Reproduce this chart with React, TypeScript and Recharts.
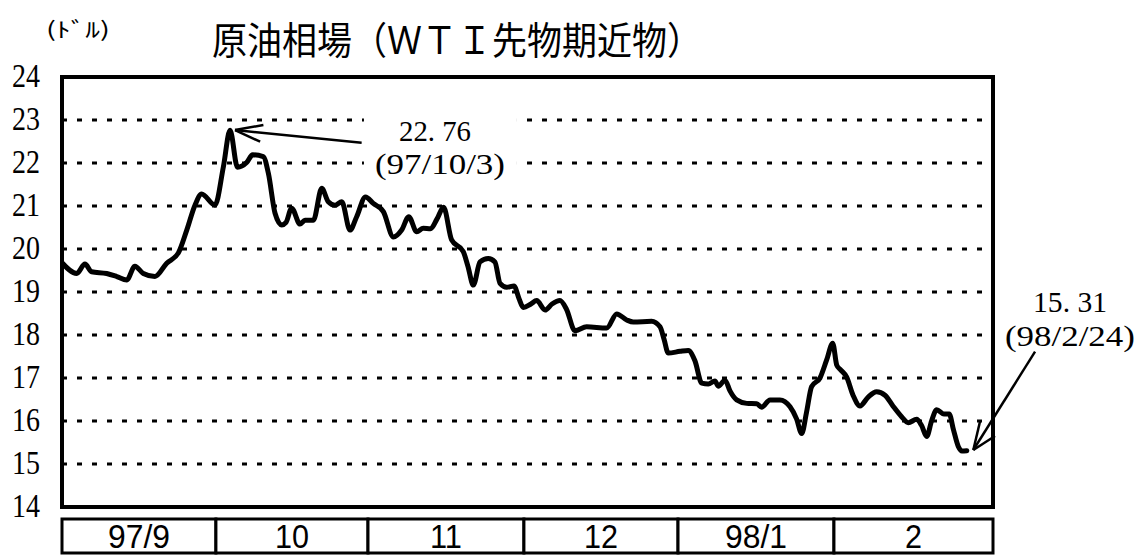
import React from 'react';
import {
  ComposedChart,
  Line,
  XAxis,
  YAxis,
  CartesianGrid,
  ReferenceArea,
  ReferenceLine,
  ReferenceDot,
} from 'recharts';

// x position in "month units" (0 = start of 97/9 box, 6 = end of 98/2 box)
const positions = [
  0, 0.095, 0.148, 0.191, 0.288, 0.353, 0.417, 0.47, 0.524, 0.599, 0.675, 0.75,
  0.804, 0.857, 0.9, 0.986, 1.04, 1.083, 1.131, 1.19, 1.229, 1.297, 1.33, 1.373,
  1.416, 1.444, 1.48, 1.534, 1.566, 1.62, 1.674, 1.716, 1.759, 1.803, 1.856, 1.899,
  1.956, 2.006, 2.071, 2.136, 2.189, 2.235, 2.286, 2.328, 2.375, 2.417, 2.459, 2.511,
  2.586, 2.616, 2.651, 2.694, 2.747, 2.79, 2.823, 2.866, 2.913, 2.945, 2.973, 3.022,
  3.059, 3.113, 3.158, 3.209, 3.251, 3.306, 3.381, 3.51, 3.575, 3.639, 3.682, 3.8,
  3.854, 3.88, 3.907, 3.983, 4.036, 4.079, 4.123, 4.165, 4.208, 4.229, 4.273, 4.305,
  4.348, 4.413, 4.477, 4.509, 4.563, 4.627, 4.692, 4.734, 4.767, 4.798, 4.831, 4.885,
  4.928, 4.967, 4.993, 5.018, 5.057, 5.098, 5.143, 5.194, 5.25, 5.304, 5.355, 5.411,
  5.454, 5.508, 5.539, 5.573, 5.604, 5.637, 5.684, 5.718, 5.745, 5.777, 5.8, 5.831,
];

const prices = [
  19.68, 19.43, 19.65, 19.47, 19.43, 19.36, 19.28, 19.6, 19.43, 19.36, 19.67, 19.91,
  20.44, 21.02, 21.28, 21.02, 21.91, 22.76, 21.9, 22.01, 22.19, 22.15, 21.76, 20.83,
  20.56, 20.62, 20.95, 20.58, 20.67, 20.67, 21.41, 21.1, 21.02, 21.1, 20.44, 20.75,
  21.21, 21.06, 20.87, 20.28, 20.44, 20.75, 20.4, 20.48, 20.47, 20.7, 20.97, 20.21,
  19.94, 19.6, 19.16, 19.7, 19.78, 19.7, 19.2, 19.11, 19.14, 18.85, 18.64, 18.72,
  18.8, 18.58, 18.72, 18.8, 18.6, 18.1, 18.19, 18.16, 18.49, 18.35, 18.3, 18.32,
  18.19, 17.9, 17.58, 17.62, 17.64, 17.4, 16.88, 16.86, 16.93, 16.81, 16.95, 16.7,
  16.49, 16.41, 16.4, 16.32, 16.49, 16.49, 16.33, 16.05, 15.71, 16.2, 16.8, 17.0,
  17.42, 17.81, 17.3, 17.19, 17.02, 16.6, 16.35, 16.55, 16.68, 16.6, 16.35, 16.1,
  15.96, 16.04, 15.9, 15.64, 16.0, 16.26, 16.16, 16.16, 15.8, 15.4, 15.3, 15.31,
];

const monthLabels = ['97/9', '10', '11', '12', '98/1', '2'];
const monthEdges = [0, 0.992, 1.972, 2.977, 3.97, 4.975, 6];
const yTicks = [14, 15, 16, 17, 18, 19, 20, 21, 22, 23, 24];

const title = '原油相場（ＷＴＩ先物期近物）';
const unitLabel = '(ﾄﾞﾙ)';

const peakValue = '22. 76';
const peakDate = '(97/10/3)';
const lastValue = '15. 31';
const lastDate = '(98/2/24)';

const data = positions.map((pos, i) => ({ pos, price: prices[i] }));

const YTick = (props: any) => {
  const { x, y, payload } = props;
  return (
    <text
      x={x}
      y={y + 10}
      textAnchor="end"
      fontFamily="Liberation Serif"
      fontSize={34}
      fill="#000"
      textLength={28}
      lengthAdjust="spacingAndGlyphs"
    >
      {payload.value}
    </text>
  );
};

const makeText =
  (text: string, width: number, size = 30, family = 'Liberation Serif', anchor: any = 'start') =>
  (p: any) => (
    <text
      x={p.cx}
      y={p.cy}
      fontFamily={family}
      fontSize={size}
      fill="#000"
      textAnchor={anchor}
      textLength={width}
      lengthAdjust="spacingAndGlyphs"
    >
      {text}
    </text>
  );

const monthWidths = [62, 34, 32, 34, 62, 17];

export default function App() {
  const black = '#000';
  const boxTop = 13.721;
  const boxBottom = 12.93;
  return (
    <div style={{ position: 'absolute', left: 0, top: 0, width: 1143, height: 555, background: '#fff' }}>
      <ComposedChart
        width={1143}
        height={555}
        data={data}
        margin={{ top: 77, right: 150, bottom: 48, left: 0 }}
      >
        <CartesianGrid vertical={false} stroke={black} strokeWidth={3} strokeDasharray="5 10" />
        <XAxis dataKey="pos" type="number" domain={[0, 6]} hide allowDataOverflow />
        <YAxis
          type="number"
          domain={[14, 24]}
          ticks={yTicks}
          interval={0}
          width={62}
          axisLine={false}
          tickLine={false}
          tickSize={0}
          tickMargin={22}
          tick={<YTick />}
          allowDataOverflow
        />
        {/* white background behind the peak annotation */}
        <ReferenceArea x1={1.946} x2={2.932} y1={21.605} y2={23.233} fill="#fff" fillOpacity={1} stroke="none" ifOverflow="visible" />
        {/* plot frame */}
        <ReferenceArea x1={0} x2={6} y1={14} y2={24} fill="none" fillOpacity={0} stroke={black} strokeWidth={4} ifOverflow="visible" />
        {/* month boxes */}
        {monthLabels.map((m, i) => (
          <ReferenceArea
            key={'box' + m}
            x1={monthEdges[i]}
            x2={monthEdges[i + 1]}
            y1={boxBottom}
            y2={boxTop}
            fill="#fff"
            fillOpacity={1}
            stroke={black}
            strokeWidth={3}
            ifOverflow="visible"
          />
        ))}
        {monthLabels.map((m, i) => (
          <ReferenceDot
            key={'lbl' + m}
            x={(monthEdges[i] + monthEdges[i + 1]) / 2}
            y={13.047}
            r={0}
            ifOverflow="visible"
            shape={makeText(m, monthWidths[i], 33, 'Liberation Sans', 'middle')}
          />
        ))}
        <Line
          type="monotone"
          dataKey="price"
          stroke={black}
          strokeWidth={5}
          strokeLinejoin="round"
          strokeLinecap="round"
          dot={false}
          activeDot={false}
          isAnimationActive={false}
        />
        {/* peak arrow */}
        <ReferenceLine segment={[{ x: 1.931, y: 22.47 }, { x: 1.115, y: 22.767 }]} stroke={black} strokeWidth={2.5} ifOverflow="visible" />
        <ReferenceLine segment={[{ x: 1.115, y: 22.767 }, { x: 1.298, y: 22.884 }]} stroke={black} strokeWidth={2.5} ifOverflow="visible" />
        <ReferenceLine segment={[{ x: 1.115, y: 22.767 }, { x: 1.277, y: 22.495 }]} stroke={black} strokeWidth={2.5} ifOverflow="visible" />
        {/* last arrow */}
        <ReferenceLine segment={[{ x: 6.271, y: 17.612 }, { x: 5.873, y: 15.326 }]} stroke={black} strokeWidth={2.5} ifOverflow="visible" />
        <ReferenceLine segment={[{ x: 5.873, y: 15.326 }, { x: 5.916, y: 15.984 }]} stroke={black} strokeWidth={2.5} ifOverflow="visible" />
        <ReferenceLine segment={[{ x: 5.873, y: 15.326 }, { x: 6.013, y: 15.651 }]} stroke={black} strokeWidth={2.5} ifOverflow="visible" />
        {/* annotation texts */}
        <ReferenceDot x={2.172} y={22.512} r={0} ifOverflow="visible" shape={makeText(peakValue, 72)} />
        <ReferenceDot x={2.017} y={21.744} r={0} ifOverflow="visible" shape={makeText(peakDate, 130)} />
        <ReferenceDot x={6.258} y={18.535} r={0} ifOverflow="visible" shape={makeText(lastValue, 74)} />
        <ReferenceDot x={6.077} y={17.744} r={0} ifOverflow="visible" shape={makeText(lastDate, 130)} />
      </ComposedChart>
      <svg width={1143} height={70} style={{ position: 'absolute', left: 0, top: 0 }}>
        <text x={46} y={37} fontFamily="Noto Sans CJK JP" fontSize={21} fill="#000" textLength={64} lengthAdjust="spacingAndGlyphs">
          {unitLabel}
        </text>
        <text x={212} y={54} fontFamily="Noto Sans CJK JP" fontSize={38} fill="#000" textLength={490} lengthAdjust="spacingAndGlyphs">
          {title}
        </text>
      </svg>
    </div>
  );
}
